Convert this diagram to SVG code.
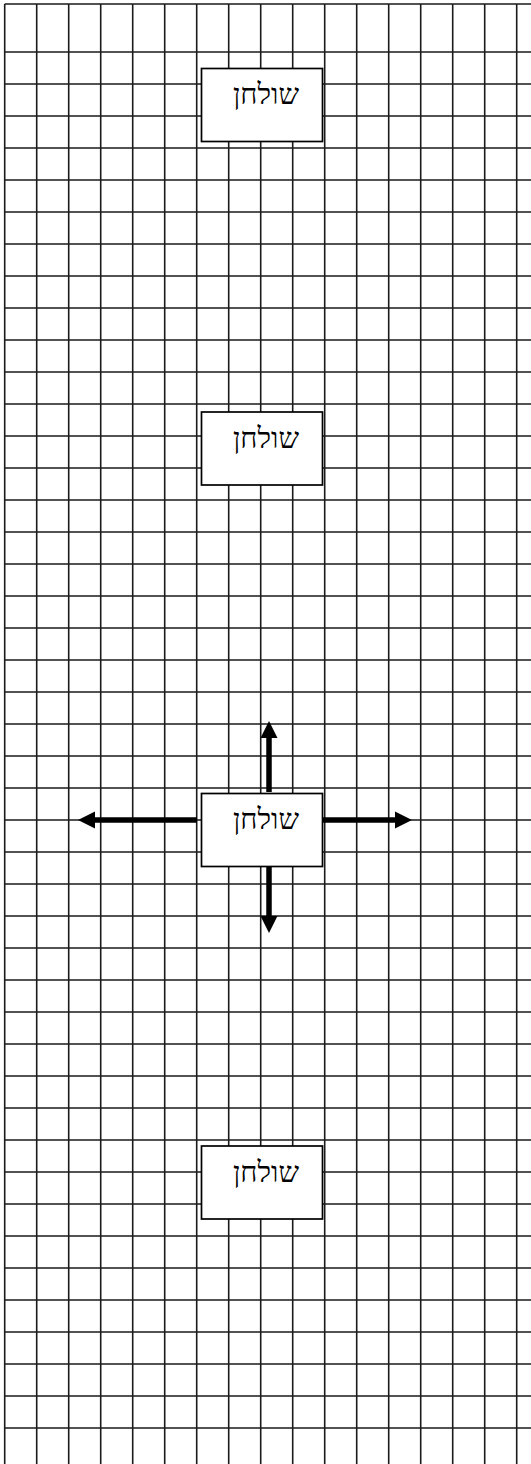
<svg xmlns="http://www.w3.org/2000/svg" width="531" height="1464" viewBox="0 0 531 1464">
<style>
.grid{stroke:#1a1a1a;stroke-width:1.6;fill:none}
.box{fill:#fff;stroke:#000;stroke-width:1.7}
.lbl{font-family:"Liberation Serif","DejaVu Sans",serif;font-size:29px;fill:#000;text-anchor:middle}
.arr{stroke:#000;stroke-width:5.5;fill:none;marker-end:url(#head)}
</style>
<defs>
<marker id="head" markerUnits="userSpaceOnUse" markerWidth="18" markerHeight="18" refX="0" refY="8.5" orient="auto" viewBox="0 0 18 17">
<path d="M0,0 L17,8.5 L0,17 z" fill="#000"/>
</marker>
</defs>
<rect x="0" y="0" width="531" height="1464" fill="#fff"/>
<g id="grid">
<path class="grid" d="M4.7,4H531 M4.7,52H531 M4.7,84H531 M4.7,116H531 M4.7,148H531 M4.7,180H531 M4.7,212H531 M4.7,244H531 M4.7,276H531 M4.7,308H531 M4.7,340H531 M4.7,372H531 M4.7,404H531 M4.7,436H531 M4.7,468H531 M4.7,500H531 M4.7,532H531 M4.7,564H531 M4.7,596H531 M4.7,628H531 M4.7,660H531 M4.7,692H531 M4.7,724H531 M4.7,756H531 M4.7,788H531 M4.7,820H531 M4.7,852H531 M4.7,884H531 M4.7,916H531 M4.7,948H531 M4.7,980H531 M4.7,1012H531 M4.7,1044H531 M4.7,1076H531 M4.7,1108H531 M4.7,1140H531 M4.7,1172H531 M4.7,1204H531 M4.7,1236H531 M4.7,1268H531 M4.7,1300H531 M4.7,1332H531 M4.7,1364H531 M4.7,1396H531 M4.7,1428H531"/>
<path class="grid" d="M4.7,4V1464 M36.7,4V1464 M68.7,4V1464 M100.7,4V1464 M132.7,4V1464 M164.7,4V1464 M196.7,4V1464 M228.7,4V1464 M260.7,4V1464 M292.7,4V1464 M324.7,4V1464 M356.7,4V1464 M388.7,4V1464 M420.7,4V1464 M452.7,4V1464 M484.7,4V1464 M516.7,4V1464"/>
</g>
<g id="connectors">
<line class="arr" x1="269" y1="792" x2="269" y2="738"/>
<line class="arr" x1="269" y1="862" x2="269" y2="916"/>
<line class="arr" x1="197" y1="820" x2="95" y2="820"/>
<line class="arr" x1="323" y1="820" x2="395" y2="820"/>
</g>
<g id="table1">
<rect class="box" x="201.5" y="68.5" width="121" height="73"/>
<text class="lbl" x="266" y="104">שולחן</text>
</g>
<g id="table2">
<rect class="box" x="201.5" y="412" width="121" height="73"/>
<text class="lbl" x="266" y="448">שולחן</text>
</g>
<g id="table3">
<rect class="box" x="201.5" y="793.5" width="121" height="73"/>
<text class="lbl" x="266" y="829">שולחן</text>
</g>
<g id="table4">
<rect class="box" x="201.5" y="1146" width="121" height="73"/>
<text class="lbl" x="266" y="1182">שולחן</text>
</g>
</svg>
